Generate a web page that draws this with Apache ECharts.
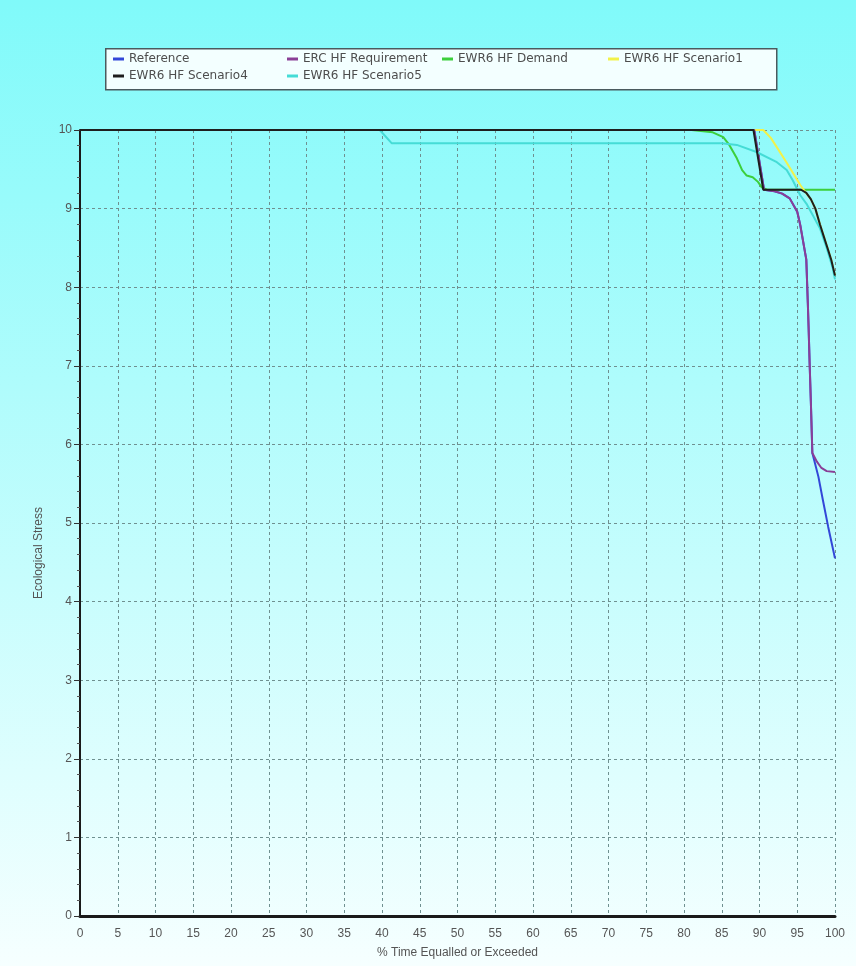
<!DOCTYPE html>
<html>
<head>
<meta charset="utf-8">
<script src="https://cdn.jsdelivr.net/npm/echarts@6/dist/echarts.min.js"></script>
<style>
html,body{margin:0;padding:0;width:856px;height:966px;overflow:hidden;}
#c{width:856px;height:966px;}
</style>
</head>
<body>
<div id="c"></div>
<script>
// ---- Data ----
const seriesNames = ["Reference", "ERC HF Requirement", "EWR6 HF Demand", "EWR6 HF Scenario1", "EWR6 HF Scenario4", "EWR6 HF Scenario5"];

const referenceX = [0, 89.3, 90.6, 92, 93, 94, 95, 95.4, 95.8, 96.2, 96.4, 96.5, 96.65, 96.8, 97.0, 97.8, 98.4, 99.1, 100];
const referenceY = [10, 10, 9.24, 9.22, 9.19, 9.13, 8.96, 8.79, 8.57, 8.35, 7.8, 7.5, 7.0, 6.55, 5.89, 5.59, 5.29, 4.95, 4.55];

const ercX = [0, 89.3, 90.6, 92, 93, 94, 95, 95.4, 95.8, 96.2, 96.4, 96.5, 96.65, 96.8, 97.0, 97.6, 98.2, 98.9, 100];
const ercY = [10, 10, 9.24, 9.22, 9.19, 9.13, 8.96, 8.79, 8.57, 8.35, 7.8, 7.5, 7.0, 6.55, 5.89, 5.78, 5.7, 5.66, 5.65];

const demandX = [0, 81, 83.8, 85.2, 86, 87, 87.7, 88.3, 89.1, 89.8, 90.3, 91, 100];
const demandY = [10, 10, 9.97, 9.91, 9.81, 9.64, 9.49, 9.42, 9.4, 9.34, 9.27, 9.24, 9.24];

const scen1X = [0, 90.5, 91.5, 92.5, 93.5, 94.4, 95.4, 96.0, 96.8, 97.4, 98.0, 98.5, 99.0, 99.5, 100];
const scen1Y = [10, 10, 9.9, 9.75, 9.6, 9.46, 9.3, 9.22, 9.12, 9.0, 8.8, 8.65, 8.5, 8.35, 8.15];

const scen4X = [0, 89.2, 90.5, 95.5, 96.2, 96.8, 97.4, 98.0, 98.5, 99.0, 99.5, 100];
const scen4Y = [10, 10, 9.24, 9.24, 9.2, 9.12, 9.0, 8.8, 8.65, 8.5, 8.35, 8.15];

const scen5X = [0, 39.7, 41.3, 85, 87, 89.6, 92.3, 93.6, 94.4, 95.4, 96.3, 97.1, 98, 98.9, 99.7, 100];
const scen5Y = [10, 10, 9.83, 9.83, 9.81, 9.72, 9.59, 9.49, 9.36, 9.17, 9.05, 8.91, 8.75, 8.5, 8.24, 8.1];

const xTicks = {min: 0, max: 100, step: 5};
const yTicks = {min: 0, max: 10, step: 1};

// ---- Chart ----
const colors = ["#3347d8", "#8a3f96", "#3ccf3c", "#f2f24a", "#1e1e1e", "#45dcd6"];
const xs = [referenceX, ercX, demandX, scen1X, scen4X, scen5X];
const ys = [referenceY, ercY, demandY, scen1Y, scen4Y, scen5Y];
const zs = [2, 3, 2, 2, 5, 4];

function pairs(x, y) { return x.map((v, i) => [v, y[i]]); }

const series = seriesNames.map((n, i) => ({
  name: n,
  type: 'line',
  data: pairs(xs[i], ys[i]),
  showSymbol: false,
  symbol: 'none',
  z: zs[i],
  lineStyle: {color: colors[i], width: 2},
  itemStyle: {color: colors[i]},
  animation: false
}));

const legendPos = [
  {left: 113, top: 53},
  {left: 287, top: 53},
  {left: 442, top: 53},
  {left: 608, top: 53},
  {left: 113, top: 70},
  {left: 287, top: 70}
];
const legends = seriesNames.map((n, i) => ({
  data: [n],
  left: legendPos[i].left,
  top: legendPos[i].top,
  orient: 'horizontal',
  padding: 0,
  icon: 'rect',
  itemWidth: 11,
  itemHeight: 3,
  selectedMode: false,
  textStyle: {fontFamily: 'DejaVu Sans', fontSize: 12, color: '#4d4d4d'}
}));

const chart = echarts.init(document.getElementById('c'), null, {renderer: 'canvas'});
chart.setOption({
  animation: false,
  backgroundColor: {
    type: 'linear', x: 0, y: 0, x2: 0, y2: 1,
    colorStops: [{offset: 0, color: '#80fafa'}, {offset: 1, color: '#f6ffff'}]
  },
  graphic: [
    {
      type: 'rect', left: 105, top: 48, z: 0,
      shape: {width: 671, height: 41},
      style: {fill: '#f3ffff', stroke: '#4a5a5e', lineWidth: 1.5}
    },
    {
      type: 'text', left: 33, top: 507, rotation: Math.PI / 2, z: 10,
      style: {text: 'Ecological Stress', fontFamily: 'Liberation Sans', fontSize: 12, fill: '#555', textAlign: 'center', textVerticalAlign: 'middle'}
    }
  ],
  legend: legends,
  grid: {left: 80, right: 21, top: 130, bottom: 50, containLabel: false},
  xAxis: {
    type: 'value',
    min: xTicks.min, max: xTicks.max, interval: xTicks.step,
    name: '% Time Equalled or Exceeded',
    nameLocation: 'middle',
    nameGap: 31,
    nameTextStyle: {fontFamily: 'Liberation Sans', fontSize: 12, color: '#555'},
    axisLine: {show: true, lineStyle: {color: '#1a1a1a', width: 3}},
    axisTick: {show: false},
    axisLabel: {fontFamily: 'Liberation Sans', fontSize: 12, color: '#555', margin: 12},
    splitLine: {show: true, lineStyle: {color: '#6f9090', width: 1, type: [3, 3]}}
  },
  yAxis: {
    type: 'value',
    min: yTicks.min, max: yTicks.max, interval: yTicks.step,
    axisLine: {show: true, onZero: false, lineStyle: {color: '#1a1a1a', width: 2}},
    axisTick: {show: true, length: 6, lineStyle: {color: '#333'}},
    minorTick: {show: true, splitNumber: 5, length: 3, lineStyle: {color: '#555'}},
    axisLabel: {fontFamily: 'Liberation Sans', fontSize: 12, color: '#555', margin: 8},
    splitLine: {show: true, lineStyle: {color: '#6f9090', width: 1, type: [3, 3]}}
  },
  series: series
});
</script>
</body>
</html>
